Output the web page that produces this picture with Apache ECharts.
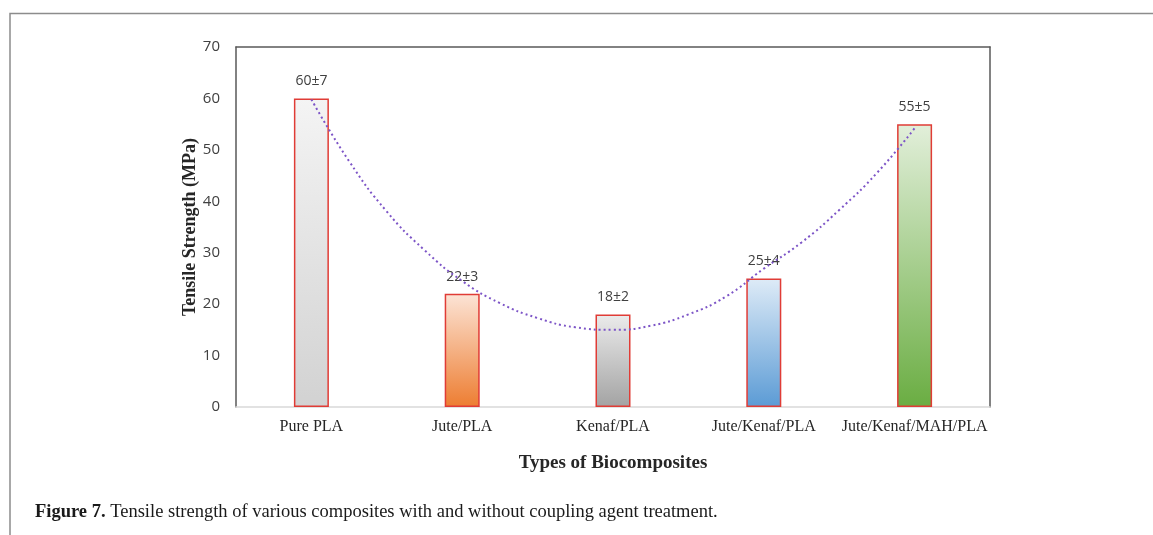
<!DOCTYPE html>
<html>
<head>
<meta charset="utf-8">
<script src="https://cdn.jsdelivr.net/npm/echarts@6/dist/echarts.min.js"></script>
<style>
html,body{margin:0;padding:0;background:#fff;}
#c{width:1153px;height:535px;}
</style>
</head>
<body>
<div id="c"></div>
<script>
// ---- data ----
const categories = ['Pure PLA', 'Jute/PLA', 'Kenaf/PLA', 'Jute/Kenaf/PLA', 'Jute/Kenaf/MAH/PLA'];
const strength = [60, 22, 18, 25, 55];
const errors = [7, 3, 2, 4, 5];
// trendline positions (in category units, 0.5 = first bar centre)
const trendX = [0.5, 0.75, 1.0, 1.25, 1.5, 1.75, 2.0, 2.25, 2.5, 2.75, 3.0, 3.25, 3.5, 3.75, 4.0, 4.25, 4.5];
const trendY = [59.8, 47.8, 38.0, 30.5, 24.5, 20.2, 17.3, 15.5, 15.0, 15.8, 18.0, 21.5, 26.9, 32.0, 38.3, 45.5, 54.2];
const yTicks = [0, 10, 20, 30, 40, 50, 60, 70];

// ---- styles ----
const barGradients = [
  ['#f4f4f4', '#d2d2d2'],
  ['#fce4d6', '#ed7d31'],
  ['#ebebeb', '#a3a3a3'],
  ['#deebf7', '#5b9bd5'],
  ['#e2efda', '#6aad42']
];
const serif = '"Liberation Serif", "DejaVu Serif", serif';
const sans = '"Open Sans", "Noto Sans", sans-serif';

const chart = echarts.init(document.getElementById('c'), null, {renderer: 'canvas'});
chart.setOption({
  animation: false,
  backgroundColor: '#fff',
  grid: {left: 236, top: 47, right: 163, bottom: 128, containLabel: false},
  xAxis: [
    {
      type: 'category', data: categories, position: 'bottom',
      axisLine: {show: true, onZero: false, lineStyle: {color: '#d9d9d9', width: 1.5}},
      axisTick: {show: false},
      axisLabel: {interval: 0, fontFamily: serif, fontSize: 16, color: '#262626', margin: 12},
      name: 'Types of Biocomposites', nameLocation: 'middle', nameGap: 47,
      nameTextStyle: {fontFamily: serif, fontSize: 19, fontWeight: 'bold', color: '#262626'}
    },
    {
      type: 'value', position: 'top', min: 0, max: 5,
      axisLine: {show: true, onZero: false, lineStyle: {color: '#595959', width: 1.5}},
      axisTick: {show: false}, axisLabel: {show: false}, splitLine: {show: false}
    }
  ],
  yAxis: [
    {
      type: 'value', min: yTicks[0], max: yTicks[yTicks.length - 1], interval: 10,
      axisLine: {show: true, onZero: false, lineStyle: {color: '#595959', width: 1.5}},
      axisTick: {show: false}, splitLine: {show: false},
      axisLabel: {fontFamily: sans, fontSize: 15, color: '#404040', margin: 16},
      name: 'Tensile Strength (MPa)', nameLocation: 'middle', nameGap: 37, nameRotate: 90,
      nameMoveOverlap: false,
      nameTextStyle: {fontFamily: serif, fontSize: 18, fontWeight: 'bold', color: '#262626'}
    },
    {
      type: 'value', position: 'right', min: 0, max: 70, interval: 10,
      axisLine: {show: true, onZero: false, lineStyle: {color: '#595959', width: 1.5}},
      axisTick: {show: false}, axisLabel: {show: false}, splitLine: {show: false}
    }
  ],
  series: [
    {
      type: 'bar', xAxisIndex: 0, yAxisIndex: 0, barWidth: 35,
      data: strength.map((v, i) => ({
        value: v,
        itemStyle: {
          color: {type: 'linear', x: 0, y: 0, x2: 0, y2: 1,
            colorStops: [{offset: 0, color: barGradients[i][0]}, {offset: 1, color: barGradients[i][1]}]},
          borderColor: '#e03c36', borderWidth: 1.5
        }
      })),
      label: {
        show: true, position: 'top', distance: 10,
        fontFamily: sans, fontSize: 14, color: '#404040',
        formatter: p => strength[p.dataIndex] + '±' + errors[p.dataIndex]
      }
    },
    {
      type: 'line', xAxisIndex: 1, yAxisIndex: 0, smooth: true, symbol: 'none',
      data: trendX.map((x, i) => [x, trendY[i]]),
      lineStyle: {color: '#7d55c7', width: 2, type: [2, 3]},
      z: 5
    }
  ],
  graphic: [
    {
      type: 'polyline', silent: true,
      shape: {points: [[10, 535], [10, 13.5], [1153, 13.5]]},
      style: {stroke: '#8c8c8c', lineWidth: 1.5, fill: null}
    },
    {
      type: 'text', left: 35, top: 503, silent: true,
      style: {
        text: '{b|Figure 7.} Tensile strength of various composites with and without coupling agent treatment.',
        font: '18.5px ' + serif, fill: '#1a1a1a',
        rich: {b: {fontWeight: 'bold', fontFamily: serif, fontSize: 18.5, fill: '#1a1a1a'}}
      }
    }
  ]
});
</script>
</body>
</html>
